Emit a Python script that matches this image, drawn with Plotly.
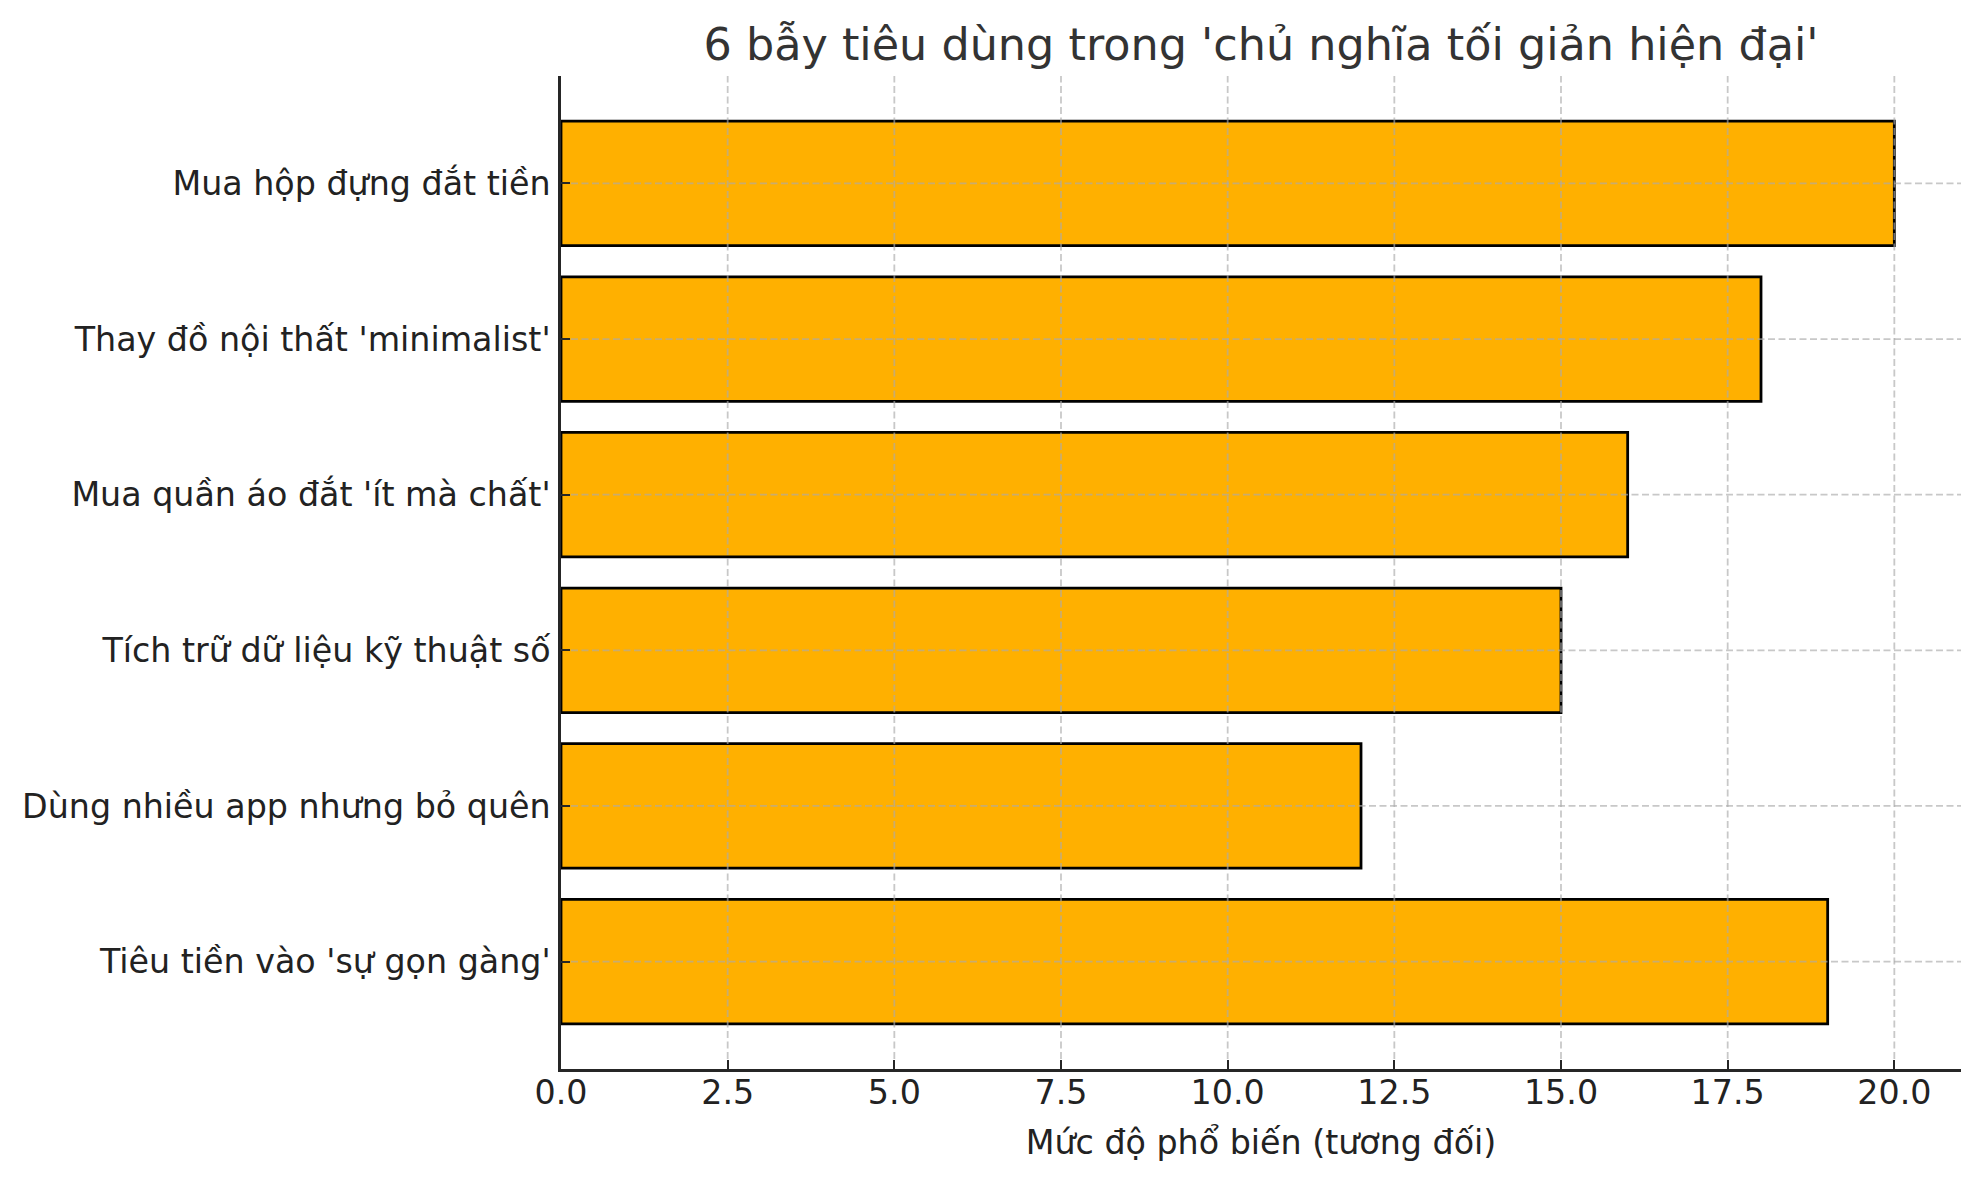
import plotly.graph_objects as go

categories = [
    "Mua hộp đựng đắt tiền",
    "Thay đồ nội thất 'minimalist'",
    "Mua quần áo đắt 'ít mà chất'",
    "Tích trữ dữ liệu kỹ thuật số",
    "Dùng nhiều app nhưng bỏ quên",
    "Tiêu tiền vào 'sự gọn gàng'",
]
values = [20, 18, 16, 15, 12, 19]
x_ticks = [0, 2.5, 5, 7.5, 10, 12.5, 15, 17.5, 20]
x_tick_labels = ["0.0", "2.5", "5.0", "7.5", "10.0", "12.5", "15.0", "17.5", "20.0"]

title_text = "6 bẫy tiêu dùng trong 'chủ nghĩa tối giản hiện đại'"
x_title = "Mức độ phổ biến (tương đối)"

FONT = "DejaVu Sans"

# page has an 8px body margin; figure sized to fit the window exactly
W, H = 1963, 1164
L, R, T, B = 553, 10, 68, 103
plot_w = W - L - R
plot_h = H - T - B
TICKLEN = 9

GRID_COLOR = "rgba(170,170,170,0.65)"
GRID_WIDTH = 1.8
GRID_DASH = "7px,3.5px"

fig = go.Figure(
    go.Bar(
        x=values,
        y=categories,
        orientation="h",
        width=0.8,
        marker=dict(color="#FFB000", line=dict(color="#000000", width=2.8)),
    )
)

# grid lines drawn above the bars (as in the reference), from the axis ticks
shapes = []
for xv in x_ticks:
    if xv == 0:
        continue
    shapes.append(dict(
        type="line", layer="above", xref="x", yref="paper",
        x0=xv, x1=xv, y0=(TICKLEN + 1) / plot_h, y1=1,
        line=dict(color=GRID_COLOR, width=GRID_WIDTH, dash=GRID_DASH),
    ))
for cat in categories:
    shapes.append(dict(
        type="line", layer="above", xref="paper", yref="y",
        x0=(TICKLEN + 1) / plot_w, x1=1, y0=cat, y1=cat,
        line=dict(color=GRID_COLOR, width=GRID_WIDTH, dash=GRID_DASH),
    ))

axis_common = dict(
    showgrid=False,
    zeroline=False,
    showline=True,
    linecolor="#262626",
    linewidth=2.5,
    ticks="inside",
    ticklen=TICKLEN,
    tickwidth=2.2,
    tickcolor="#262626",
    tickfont=dict(family=FONT, size=33.3, color="#222222"),
    layer="above traces",
    fixedrange=True,
)

fig.update_layout(
    width=W,
    height=H,
    margin=dict(l=L, r=R, t=T, b=B, autoexpand=False),
    paper_bgcolor="white",
    plot_bgcolor="white",
    font=dict(family=FONT, size=33.3, color="#222222"),
    showlegend=False,
    shapes=shapes,
    title=dict(
        text=title_text,
        x=(L + plot_w / 2) / W,
        xanchor="center",
        y=1 - 36 / H,
        yanchor="middle",
        font=dict(family=FONT, size=44.5, color="#333333"),
    ),
    xaxis=dict(
        range=[0, 21],
        tickvals=x_ticks,
        ticktext=x_tick_labels,
        title=dict(text=x_title, font=dict(family=FONT, size=33.3, color="#222222"), standoff=20),
        ticklabelstandoff=-8,
        **axis_common,
    ),
    yaxis=dict(
        categoryorder="array",
        categoryarray=list(reversed(categories)),
        range=[-0.69, 5.69],
        ticklabelstandoff=1,
        **axis_common,
    ),
)

fig.write_html("out.html", config={"displayModeBar": False})
